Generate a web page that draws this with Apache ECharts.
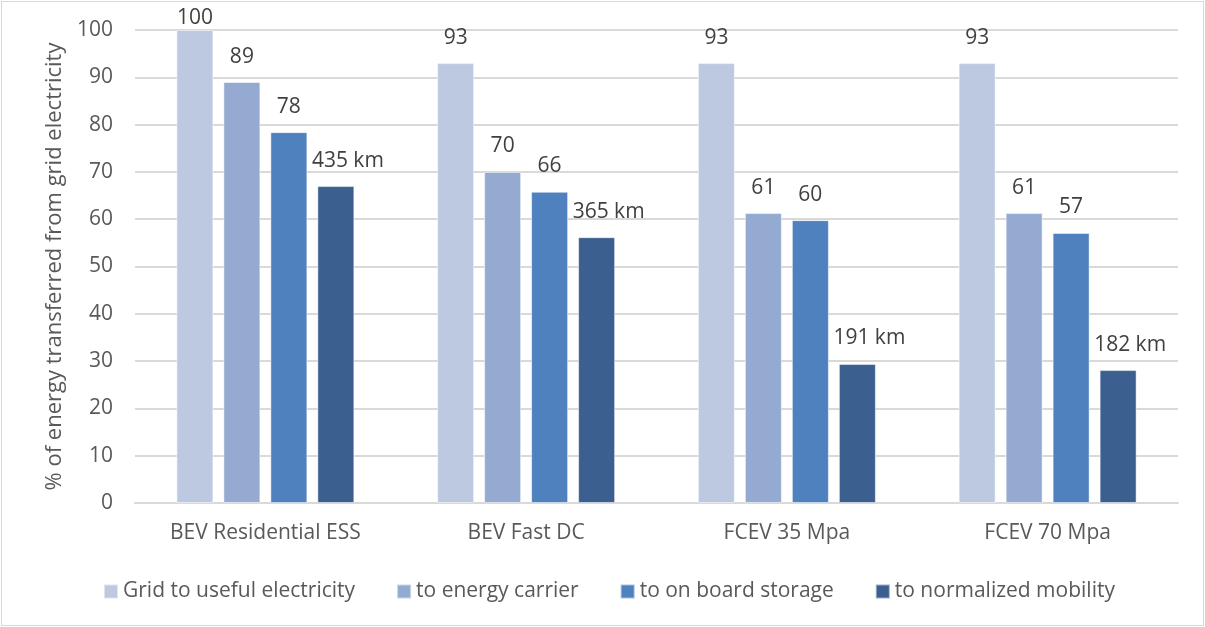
<!DOCTYPE html>
<html lang="en">
<head>
    <meta charset="UTF-8">
    <title>Energy transfer chart</title>
    <script src="https://cdn.jsdelivr.net/npm/echarts@6/dist/echarts.min.js"></script>
    <style>
        html, body { margin: 0; padding: 0; background: #fff; }
        #frame { position: absolute; left: 1px; top: 1px; width: 1201px; height: 623px; border: 1px solid #d9d9d9; }
        #main { position: absolute; left: 0; top: 0; width: 1205px; height: 627px; }
    </style>
</head>
<body>
<div id="frame"></div>
<div id="main"></div>
<script>
    // data
    var categories = ['BEV Residential ESS', 'BEV Fast DC', 'FCEV 35 Mpa', 'FCEV 70 Mpa'];
    var seriesNames = ['Grid to useful electricity', 'to energy carrier', 'to on board storage', 'to normalized mobility'];
    var gridUseful = [100, 93, 93, 93];
    var energyCarrier = [89, 70, 61.3, 61.3];
    var onBoard = [78.4, 65.8, 59.8, 57.1];
    var mobility = [67, 56.2, 29.4, 28.1];
    var carrierLabels = ['89', '70', '61', '61'];
    var onBoardLabels = ['78', '66', '60', '57'];
    var mobilityLabels = ['435 km', '365 km', '191 km', '182 km'];
    var yTicks = [0, 10, 20, 30, 40, 50, 60, 70, 80, 90, 100];

    var colors = ['#bcc9e1', '#95aad1', '#4e81bd', '#3b5f8f'];
    var font = 'Open Sans';

    var chart = echarts.init(document.getElementById('main'));

    function labelStyle(texts, dx) {
        return {
            show: true,
            position: 'top',
            distance: 5,
            offset: [dx, -10],
            fontFamily: font,
            fontSize: 21,
            color: '#404040',
            formatter: function (p) { return texts ? texts[p.dataIndex] : p.value; }
        };
    }

    // first series: the top bar label sits tight under the frame
    var firstData = gridUseful.map(function (v) {
        if (v >= 100) {
            return { value: v, label: { offset: [0, 0], distance: 1 } };
        }
        return v;
    });

    var values = [firstData, energyCarrier, onBoard, mobility];
    var texts = [null, carrierLabels, onBoardLabels, mobilityLabels];
    var shifts = [0, 0, 0, 12];

    var series = seriesNames.map(function (name, i) {
        return {
            name: name,
            type: 'bar',
            data: values[i],
            barWidth: 37,
            barGap: '27%',
            itemStyle: { color: colors[i], borderColor: 'rgba(255,255,255,0.5)', borderWidth: 1 },
            label: labelStyle(texts[i], shifts[i])
        };
    });

    var option = {
        animation: false,
        grid: { left: 135, right: 27, top: 30, bottom: 124, containLabel: false },
        legend: {
            data: seriesNames,
            left: 98,
            top: 576,
            icon: 'rect',
            itemWidth: 14,
            itemHeight: 14,
            itemGap: 41,
            textStyle: { fontFamily: font, fontSize: 21, color: '#595959' }
        },
        xAxis: {
            type: 'category',
            data: categories,
            axisLine: { lineStyle: { color: '#d9d9d9', width: 2 } },
            axisTick: { show: false },
            axisLabel: { fontFamily: font, fontSize: 21, color: '#595959', margin: 20 }
        },
        yAxis: {
            type: 'value',
            min: yTicks[0],
            max: yTicks[yTicks.length - 1],
            interval: 10,
            name: '% of energy transferred from grid electricity',
            nameLocation: 'middle',
            nameGap: 65,
            nameTextStyle: { fontFamily: font, fontSize: 22, color: '#595959' },
            axisLine: { show: false },
            axisTick: { show: false },
            axisLabel: { fontFamily: font, fontSize: 21, color: '#595959', margin: 22 },
            splitLine: { lineStyle: { color: '#d9d9d9', width: 2 } }
        },
        series: series
    };

    chart.setOption(option);
</script>
</body>
</html>
